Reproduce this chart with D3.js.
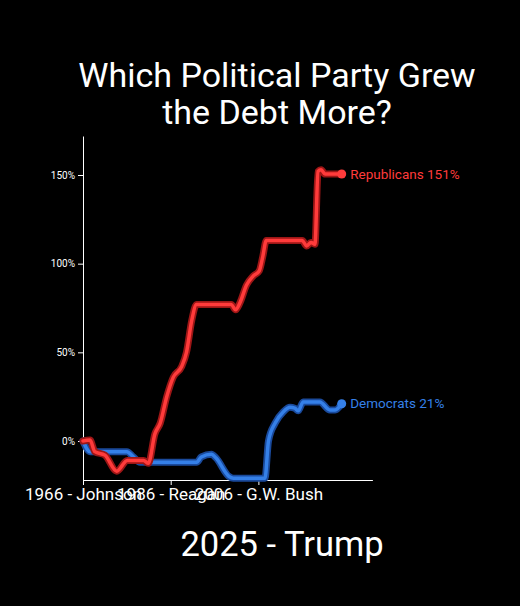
<!DOCTYPE html>
<html>
<head>
<meta charset="utf-8">
<script src="https://cdn.jsdelivr.net/npm/d3@7"></script>
<style>
  body { margin: 0; background: #000; }
  svg { display: block; font-family: Roboto, sans-serif; }
</style>
</head>
<body>
<div id="chart"></div>
<script>
// cumulative debt growth attributed to each party (%)
let repYears  = [1966, 1967.6, 1968.7, 1971, 1973.7, 1976.1, 1979.8, 1980.9, 1982.4, 1983.6, 1985.1, 1986.6, 1988.5, 1989.6, 1990.8, 1991.9, 1999.8, 2000.8, 2001.8, 2003.3, 2004.8, 2006.2, 2007, 2007.8, 2016, 2017, 2018, 2018.9, 2019.6, 2020.3, 2021.2, 2025]
let repValues = [0, 0.5, -6, -8, -17, -11, -11, -12.6, 4, 10, 25, 36, 42, 50, 68, 77, 77, 74, 78, 88, 93, 96, 104, 113, 113, 110, 112, 111, 152, 153, 150.5, 150.6]

let demYears  = [1966, 1967.6, 1976, 1977.5, 1979, 1991.9, 1993, 1995.3, 1996.3, 1999.3, 2000.3, 2007.5, 2008.3, 2009.8, 2011.7, 2013.2, 2014.3, 2015.1, 2016.2, 2020, 2022.3, 2023.5, 2025]
let demValues = [0, -6, -6, -9, -12, -12, -9, -7.5, -9.5, -20, -21, -21, 0, 10, 16.5, 19, 18.5, 17, 22, 22, 17.5, 17.5, 21]

let tickYears  = [1966, 1986, 2006]
let tickLabels = ["1966 - Johnson", "1986 - Reagan", "2006 - G.W. Bush"]
let yTicks = [0, 50, 100, 150]

let series = [
  {name: "Democrats", years: demYears, values: demValues, color: "#3580e8", glow: "#1a4a9c"},
  {name: "Republicans", years: repYears, values: repValues, color: "#ff3b3b", glow: "#9c1616"}
]

let width = 520, height = 606

let svg = d3.select("#chart")
  .append("svg")
  .attr("width", width)
  .attr("height", height)

let x = d3.scaleLinear()
  .domain([1966, 2032])
  .range([83, 372.4])

let y = d3.scaleLinear()
  .domain([-22, 172])
  .range([480, 136])

// title
svg.append("text")
  .attr("x", 277)
  .attr("y", 87)
  .attr("text-anchor", "middle")
  .attr("fill", "#fff")
  .style("font-size", "34px")
  .text("Which Political Party Grew")

svg.append("text")
  .attr("x", 277)
  .attr("y", 124)
  .attr("text-anchor", "middle")
  .attr("fill", "#fff")
  .style("font-size", "34px")
  .text("the Debt More?")

// axes
let yAxis = svg.append("g")
  .attr("transform", "translate(" + x(1966) + ",0)")
  .call(d3.axisLeft(y)
    .tickValues(yTicks)
    .tickSize(5)
    .tickSizeOuter(0)
    .tickPadding(3)
    .tickFormat(d => d + "%"))
yAxis.selectAll(".domain, line").attr("stroke", "#fff")
yAxis.selectAll("text").attr("fill", "#fff").style("font-size", "10px").style("font-family", "Roboto, sans-serif")

let xAxis = svg.append("g")
  .attr("transform", "translate(0," + y(-22) + ")")
  .call(d3.axisBottom(x)
    .tickValues(tickYears)
    .tickSize(5)
    .tickSizeOuter(0)
    .tickPadding(3)
    .tickFormat((d, i) => tickLabels[i]))
xAxis.selectAll(".domain, line").attr("stroke", "#fff")
xAxis.selectAll("text").attr("fill", "#fff").style("font-size", "17px").style("font-family", "Roboto, sans-serif")

// lines
let line = d3.line()
  .x(d => x(d[0]))
  .y(d => y(d[1]))
  .curve(d3.curveMonotoneX)

series.forEach(s => {
  let pts = s.years.map((yr, i) => [yr, s.values[i]])
  svg.append("path")
    .attr("d", line(pts))
    .attr("fill", "none")
    .attr("stroke", s.glow)
    .attr("stroke-width", 7)
    .attr("stroke-linejoin", "round")
    .attr("stroke-linecap", "round")
  svg.append("path")
    .attr("d", line(pts))
    .attr("fill", "none")
    .attr("stroke", s.color)
    .attr("stroke-width", 3.5)
    .attr("stroke-linejoin", "round")
    .attr("stroke-linecap", "round")

  let last = pts[pts.length - 1]
  svg.append("circle")
    .attr("cx", x(last[0]))
    .attr("cy", y(last[1]))
    .attr("r", 4.5)
    .attr("fill", s.color)

  svg.append("text")
    .attr("x", x(last[0]) + 8.5)
    .attr("y", y(last[1]))
    .attr("dy", "0.35em")
    .attr("fill", s.color)
    .style("font-size", "13.5px")
    .text(s.name + " " + Math.round(last[1]) + "%")
})

// current frame label
svg.append("text")
  .attr("x", 282)
  .attr("y", 556)
  .attr("text-anchor", "middle")
  .attr("fill", "#fff")
  .style("font-size", "34.5px")
  .text("2025 - Trump")
</script>
</body>
</html>
